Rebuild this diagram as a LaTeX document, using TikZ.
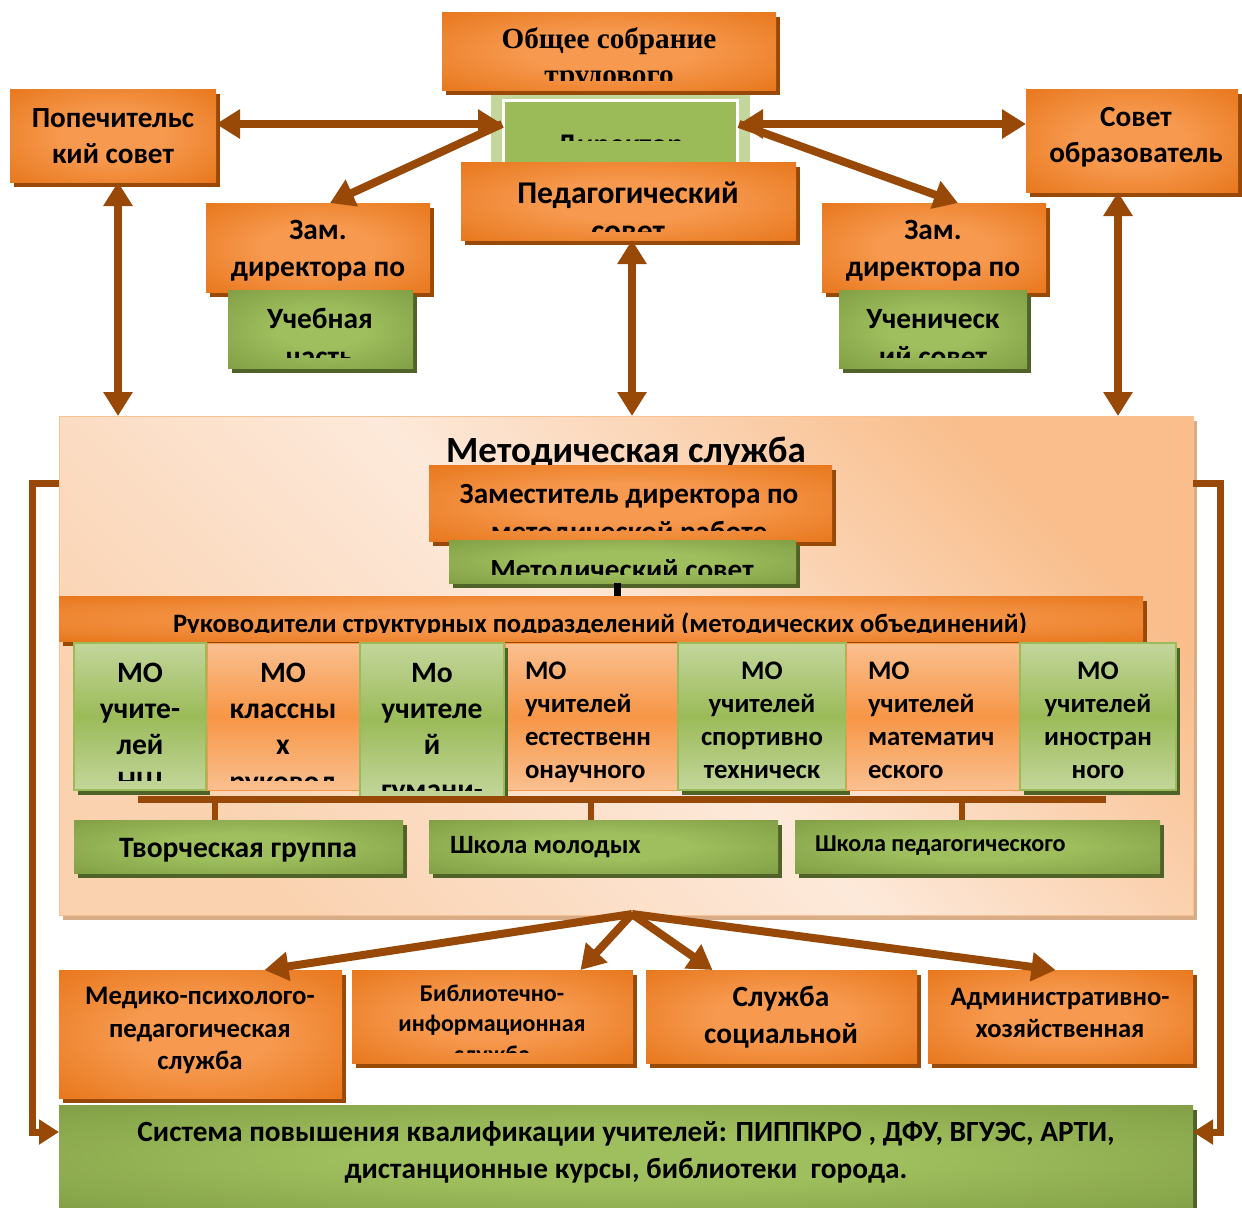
\documentclass[tikz,border=0pt]{standalone}
\usepackage{fontspec}
\setmainfont{Carlito}
\newfontfamily\tnr{Liberation Serif}
\usetikzlibrary{arrows.meta,shadows,fit}
\definecolor{OrE}{HTML}{E26B0A}
\definecolor{OrC}{HTML}{F79A50}
\definecolor{OrS}{HTML}{984807}
\definecolor{GrE}{HTML}{77933C}
\definecolor{GrC}{HTML}{9FBF5E}
\definecolor{GrS}{HTML}{4F6228}
\definecolor{LGr}{HTML}{C3D69B}
\definecolor{MGr}{HTML}{9BBB59}
\definecolor{LOr}{HTML}{FAC090}
\definecolor{MOr}{HTML}{F79646}
\definecolor{Brn}{HTML}{984807}
\definecolor{PeachL}{HTML}{FDE9DA}
\definecolor{PeachD}{HTML}{F9BE8C}
\definecolor{PeachM}{HTML}{FAD2B0}
\definecolor{ShB}{HTML}{D7AC88}
\pgfdeclareradialshading{oshade}{\pgfpointorigin}{color(0bp)=(OrC); color(12bp)=(OrC); color(44bp)=(OrE); color(75bp)=(OrE)}
\pgfdeclareradialshading{gshade}{\pgfpointorigin}{color(0bp)=(GrC); color(12bp)=(GrC); color(44bp)=(GrE); color(75bp)=(GrE)}
\begin{document}
\begin{tikzpicture}[x=0.5pt,y=-0.5pt,
  box/.style={inner sep=0pt, outer sep=0pt},
  obox/.style={box, shade, shading=oshade, general shadow={fill=OrS, shadow xshift=2pt, shadow yshift=-2.5pt}},
  gbox/.style={box, shade, shading=gshade, general shadow={fill=GrS, shadow xshift=2pt, shadow yshift=-2.5pt}},
  mog/.style={box, top color=LGr, bottom color=LGr, middle color=MGr, draw=MGr, line width=0.75pt, general shadow={fill=GrS, shadow xshift=2pt, shadow yshift=-2.5pt}},
  moo/.style={box, top color=LOr, bottom color=LOr, middle color=MOr, draw=MOr, line width=0.5pt},
  tx/.style={inner sep=0pt, outer sep=0pt, anchor=base, font={\fontsize{#1}{#1}\selectfont\bfseries}},
  txl/.style={tx=#1, anchor=base west},
  tnrx/.style={inner sep=0pt, outer sep=0pt, anchor=base, font={\tnr\fontsize{#1}{#1}\selectfont\bfseries}},
  arr/.style={draw=Brn, line width=4pt, -{Triangle[length=12pt,width=14pt]}},
  darr/.style={draw=Brn, line width=4pt, {Triangle[length=12pt,width=14pt]}-{Triangle[length=12pt,width=14pt]}},
  sarr/.style={draw=Brn, line width=3.5pt, -{Triangle[length=10pt,width=12pt]}},
  bar/.style={fill=Brn, draw=none}
]
\useasboundingbox (0,0) rectangle (1242,1207);
\fill[white] (0,0) rectangle (1242,1207);

% ---------- big methodical box
\node[box, top color=PeachD, bottom color=PeachM, middle color=PeachL, shading angle=-45, draw=LOr, line width=0.5pt,
  general shadow={fill=ShB, shadow xshift=2pt, shadow yshift=-2.5pt}, fit={(59,416) (1193,915)}] (ms) {};
\node[tx=18.5] (tms) at (626,462) {Методическая служба};

% ---------- director
\node[box, fill=LGr, fit={(491,86) (750,162)}] (dirframe) {};
\node[box, fill=MGr, draw=white, line width=1.5pt, fit={(503,100) (737,164)}] (dir) {};
\begin{scope}
\clip (503,100) rectangle (737,140);
\node[tx=15] (tdir) at (620,154) {Директор};
\end{scope}

% ---------- general meeting
\node[obox, fit={(442,12) (776,90)}] (gm) {};
\begin{scope}
\clip (442,12) rectangle (776,80);
\node[tnrx=14.6] (tgm1) at (609,48) {Общее собрание};
\node[tnrx=14.6] (tgm2) at (609,84) {трудового};
\end{scope}

% ---------- pedagogical council
\node[obox, fit={(461,162) (796,240)}] (ped) {};
\begin{scope}
\clip (461,162) rectangle (796,231);
\node[tx=15.8] (tped1) at (628,203) {Педагогический};
\node[tx=15.8] (tped2) at (628,241) {совет};
\end{scope}

% ---------- trustees / founders
\node[obox, fit={(10,89) (216,182)}] (pop) {};
\node[tx=14.6] (tpop1) at (113,127) {Попечительс};
\node[tx=14.6] (tpop2) at (113,163) {кий совет};
\node[obox, fit={(1026,89) (1238,192)}] (sov) {};
\node[tx=14.6] (tsov1) at (1136,126) {Совет};
\node[tx=14.6] (tsov2) at (1136,162) {образователь};

% ---------- deputies
\node[obox, fit={(206,203) (430,292)}] (zl) {};
\node[tx=14.7] (tzl1) at (318,239) {Зам.};
\node[tx=14.7] (tzl2) at (318,276) {директора по};
\node[gbox, fit={(228,290) (413,368)}] (ucheb) {};
\begin{scope}
\clip (228,290) rectangle (413,357);
\node[tx=14.7] (tuc1) at (320,328) {Учебная};
\node[tx=14.7] (tuc2) at (320,366) {часть};
\end{scope}
\node[obox, fit={(822,203) (1046,292)}] (zr) {};
\node[tx=14.7] (tzr1) at (933,239) {Зам.};
\node[tx=14.7] (tzr2) at (933,276) {директора по};
\node[gbox, fit={(839,290) (1027,368)}] (uchen) {};
\begin{scope}
\clip (839,290) rectangle (1027,357);
\node[tx=14.7] (tun1) at (933,328) {Ученическ};
\node[tx=14.7] (tun2) at (933,366) {ий совет};
\end{scope}

% ---------- methodical deputy and council
\node[obox, fit={(429,465) (832,541)}] (zm) {};
\begin{scope}
\clip (429,465) rectangle (832,530);
\node[tx=14.6] (tzm1) at (629,503) {Заместитель директора по};
\node[tx=14.6] (tzm2) at (629,541) {методической работе};
\end{scope}
\node[gbox, fit={(449,540) (796,583)}] (msov) {};
\begin{scope}
\clip (449,540) rectangle (796,574);
\node[tx=14.6] (tmsov) at (622,579) {Методический совет};
\end{scope}
\node[box, fill=black, fit={(614,583) (621,597)}] (tick0) {};

% ---------- heads bar
\node[obox, fit={(59,596) (1143,641)}] (heads) {};
\begin{scope}
\clip (59,596) rectangle (1143,632);
\node[tx=13.3] (theads) at (600,632) {Руководители структурных подразделений (методических объединений)};
\end{scope}

% ---------- MO cells
\node[mog, fit={(74,643) (206,790)}] (mo1) {};
\node[moo, fit={(207,643) (359,790)}] (mo2) {};
\node[moo, fit={(505,643) (678,790)}] (mo4) {};
\node[mog, fit={(678,643) (846,790)}] (mo5) {};
\node[moo, fit={(846,643) (1020,790)}] (mo6) {};
\node[mog, fit={(1020,643) (1176,790)}] (mo7) {};
\node[mog, fit={(360,643) (504,797)}] (mo3) {};
\begin{scope}
\clip (74,643) rectangle (206,780);
\node[tx=14.8] (tm11) at (140,682) {МО};
\node[tx=14.8] (tm12) at (140,718) {учите-};
\node[tx=14.8] (tm13) at (140,754) {лей};
\node[tx=14.8] (tm14) at (140,791) {НШ};
\end{scope}
\begin{scope}
\clip (207,643) rectangle (359,780);
\node[tx=14.8] (tm21) at (283,682) {МО};
\node[tx=14.8] (tm22) at (283,718) {классны};
\node[tx=14.8] (tm23) at (283,754) {х};
\node[tx=14.8] (tm24) at (283,791) {руковод};
\end{scope}
\begin{scope}
\clip (360,643) rectangle (504,790);
\node[tx=14.8] (tm31) at (432,682) {Мо};
\node[tx=14.8] (tm32) at (432,718) {учителе};
\node[tx=14.8] (tm33) at (432,754) {й};
\node[tx=14.8] (tm34) at (432,799) {гумани-};
\end{scope}
\node[txl=13.4] (tm41) at (525,679) {МО};
\node[txl=13.4] (tm42) at (525,712) {учителей};
\node[txl=13.4] (tm43) at (525,745) {естественн};
\node[txl=13.4] (tm44) at (525,778) {онаучного};
\node[tx=13.4] (tm51) at (762,679) {МО};
\node[tx=13.4] (tm52) at (762,712) {учителей};
\node[tx=13.4] (tm53) at (762,745) {спортивно};
\node[tx=13.4] (tm54) at (762,778) {техническ};
\node[txl=13.4] (tm61) at (868,679) {МО};
\node[txl=13.4] (tm62) at (868,712) {учителей};
\node[txl=13.4] (tm63) at (868,745) {математич};
\node[txl=13.4] (tm64) at (868,778) {еского};
\node[tx=13.4] (tm71) at (1098,679) {МО};
\node[tx=13.4] (tm72) at (1098,712) {учителей};
\node[tx=13.4] (tm73) at (1098,745) {иностран};
\node[tx=13.4] (tm74) at (1098,778) {ного};

% ---------- connecting bar and ticks
\node[box, bar, fit={(138,796) (1106,803)}] (hbar) {};
\node[box, bar, fit={(212,803) (218,820)}] (tk1) {};
\node[box, bar, fit={(588,803) (594,820)}] (tk2) {};
\node[box, bar, fit={(959,803) (965,820)}] (tk3) {};

% ---------- groups
\node[gbox, fit={(74,820) (403,873)}] (g1) {};
\node[tx=14.8] (tg1) at (238,857) {Творческая группа};
\node[gbox, fit={(429,820) (778,873)}] (g2) {};
\node[txl=13.2] (tg2) at (450,853) {Школа молодых};
\node[gbox, fit={(795,820) (1160,873)}] (g3) {};
\node[txl=12.1] (tg3) at (815,851) {Школа педагогического};

% ---------- services
\node[obox, fit={(59,970) (342,1098)}] (s1) {};
\node[tx=13.4] (ts11) at (200,1004) {Медико-психолого-};
\node[tx=13.4] (ts12) at (200,1037) {педагогическая};
\node[tx=13.4] (ts13) at (200,1069) {служба};
\node[obox, fit={(352,970) (633,1063)}] (s2) {};
\begin{scope}
\clip (352,970) rectangle (633,1052);
\node[tx=12] (ts21) at (492,1001) {Библиотечно-};
\node[tx=12] (ts22) at (492,1031) {информационная};
\node[tx=12] (ts23) at (492,1062) {служба};
\end{scope}
\node[obox, fit={(646,970) (917,1063)}] (s3) {};
\node[tx=14.7] (ts31) at (781,1006) {Служба};
\node[tx=14.7] (ts32) at (781,1043) {социальной};
\node[obox, fit={(928,970) (1193,1063)}] (s4) {};
\begin{scope}
\clip (928,970) rectangle (1193,1050);
\node[tx=13.3] (ts41) at (1060,1005) {Административно-};
\node[tx=13.3] (ts42) at (1060,1037) {хозяйственная};
\node[tx=13.3] (ts43) at (1060,1070) {служба};
\end{scope}

% ---------- qualification system
\node[gbox, fit={(59,1105) (1193,1212)}] (qs) {};
\node[tx=14.65] (tqs1) at (626,1141) {Система повышения квалификации учителей: ПИППКРО , ДФУ, ВГУЭС, АРТИ,};
\node[tx=14.65] (tqs2) at (626,1178) {дистанционные курсы, библиотеки\ \ города.};

% ---------- connectors
\coordinate (dL) at (502,124);
\coordinate (dR) at (739,124);
\coordinate (sideY) at (0,483);
\coordinate (lowY) at (0,1132);
\coordinate (fan) at (632,914);
\draw[darr] (pop.east |- dL) -- (dL);
\draw[darr] (dR) -- (sov.west |- dR);
\draw[arr] (dL) -- ([xshift=6pt]zl.north);
\draw[arr] (dR) -- ([xshift=12pt]zr.north);
\draw[darr] ([xshift=2.5pt]pop.south) -- ([xshift=2.5pt]pop.south |- ms.north);
\draw[darr] ([xshift=1.75pt]ped.south) -- ([xshift=1.75pt]ped.south |- ms.north);
\draw[darr] ([xshift=-7pt]sov.south) -- ([xshift=-7pt]sov.south |- ms.north);
\draw[sarr] (ms.west |- sideY) -- ++(-27,0) |- (qs.west |- lowY);
\draw[sarr] (ms.east |- sideY) -- ++(27,0) |- (qs.east |- lowY);
\draw[arr] (fan) -- ([xshift=32pt]s1.north);
\draw[arr] (fan) -- ([xshift=44pt]s2.north);
\draw[arr] (fan) -- ([xshift=-34.5pt]s3.north);
\draw[arr] (fan) -- ([xshift=-2.5pt]s4.north);
\end{tikzpicture}
\end{document}
